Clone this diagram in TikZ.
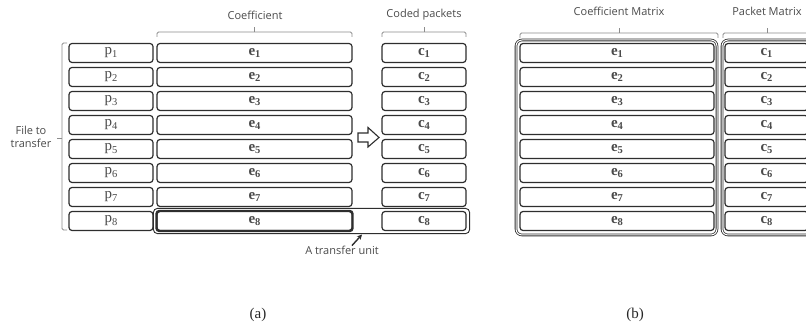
\documentclass[tikz,border=0pt]{standalone}
\usepackage{fontspec}
\setmainfont{Liberation Serif}
\newfontfamily\lblfont{Open Sans}
\usetikzlibrary{arrows.meta,calc,fit}
\definecolor{boxline}{HTML}{2E2E2E}
\definecolor{txt}{HTML}{4A4A4A}
\definecolor{brk}{HTML}{8C8C8C}
\tikzset{
  cell/.style={draw=boxline, line width=1.2pt, rounded corners=3pt,
    minimum height=19pt, inner sep=0pt, fill=white, text=txt,
    font=\fontsize{15}{15}\selectfont},
  lbl/.style={text=txt, font=\lblfont\fontsize{11}{12.5}\selectfont, inner sep=1pt},
  brace/.style={draw=brk, line width=0.8pt, rounded corners=1.5pt},
  outerbox/.style={draw=boxline, line width=0.8pt, double=white,
    double distance=1pt, rounded corners=6pt},
  captxt/.style={font=\fontsize{15}{15}\selectfont, text=black!85},
}
\newcommand\sbs[1]{\raisebox{-0.35ex}{\fontsize{10.5}{10.5}\selectfont #1}}
\newcommand\bracketx[3]{%
  \draw[brace] (#1,#3+5) -- (#1,#3) -- (#2,#3) -- (#2,#3+5);
  \draw[brace] ({(#1+#2)/2},#3) -- ({(#1+#2)/2},#3-5);}
\begin{document}
\begin{tikzpicture}[x=1pt,y=-1pt]
\useasboundingbox (0,0) rectangle (806,328);
\clip (0,0) rectangle (806,328);

% ---------- (a) ----------
\foreach \i in {1,...,8}{
  \pgfmathsetmacro\yc{53+24*(\i-1)}
  \node[cell, minimum width=84pt] (p\i) at (111,\yc) {p\sbs{\i}};
  \node[cell, minimum width=195pt] (e\i) at (254.5,\yc) {\bfseries e\sbs{\i}};
  \node[cell, minimum width=84pt] (c\i) at (424,\yc) {\bfseries c\sbs{\i}};
}
\draw[boxline, line width=2.2pt, rounded corners=3pt] (e8.north west) rectangle (e8.south east);
\node[draw=boxline, line width=0.9pt, rounded corners=4pt, inner xsep=3pt, inner ysep=2.5pt,
  fit=(e8)(c8)] (unit) {};

% labels and brackets
\node[lbl] (coef) at (255,15) {Coefficient};
\bracketx{157}{352}{32}
\node[lbl] (coded) at (424,15) {Coded packets};
\bracketx{382}{466}{32}

% file to transfer brace
\draw[brace] (67,43) -- (62,43) -- (62,230) -- (67,230);
\draw[brace] (62,138) -- (57,138);
\node[lbl, align=center] (file) at (31,137) {File to\\transfer};

% hollow arrow
\draw[boxline, line width=1.1pt, fill=white, line join=miter]
  (358,133) -- (368,133) -- (368,127.5) -- (379,137.5) -- (368,147) -- (368,142) -- (358,142) -- cycle;

% transfer unit label
\node[lbl] (tu) at (342,250) {A transfer unit};
\coordinate (tip) at (362,234.5);
\draw[boxline, line width=1.4pt, -{Stealth[length=5pt,width=5pt]}] ($(tu.north)+(10,1)$) -- (tip);

\node[captxt] (capa) at (258,315) {(a)};

% ---------- (b) ----------
\draw[outerbox] (516,40) rectangle (717,235);
\draw[outerbox] (722,40) rectangle (830,235);
\foreach \i in {1,...,8}{
  \pgfmathsetmacro\yc{53+24*(\i-1)}
  \node[cell, minimum width=194pt] (E\i) at (617,\yc) {\bfseries e\sbs{\i}};
  \node[cell, minimum width=83pt] (C\i) at (766.5,\yc) {\bfseries c\sbs{\i}};
}
\node[lbl] (cm) at (619,11) {Coefficient Matrix};
\bracketx{520}{718}{33}
\node[lbl] (pm) at (767,11) {Packet Matrix};
\bracketx{723}{811}{33}

\node[captxt] (capb) at (635,315) {(b)};
\end{tikzpicture}
\end{document}
